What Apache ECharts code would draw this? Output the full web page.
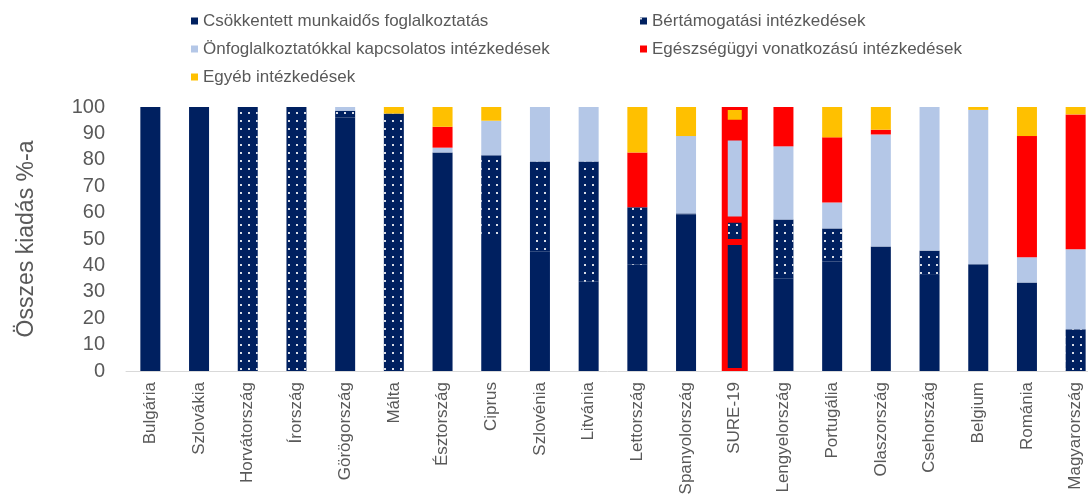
<!DOCTYPE html>
<html>
<head>
<meta charset="utf-8">
<script src="https://cdn.jsdelivr.net/npm/echarts@6/dist/echarts.min.js"></script>
<style>
html,body{margin:0;padding:0;background:#fff;}
#chart{width:1088px;height:495px;}
</style>
</head>
<body>
<div id="chart"></div>
<script>
const categories = ['Bulgária','Szlovákia','Horvátország','Írország','Görögország','Málta','Észtország','Ciprus','Szlovénia','Litvánia','Lettország','Spanyolország','SURE-19','Lengyelország','Portugália','Olaszország','Csehország','Belgium','Románia','Magyarország'];
const seriesNames = ['Csökkentett munkaidős foglalkoztatás','Bértámogatási intézkedések','Önfoglalkoztatókkal kapcsolatos intézkedések','Egészségügyi vonatkozású intézkedések','Egyéb intézkedések'];
const csokkentett = [100, 100, 0, 0, 96, 0, 82.8, 49.6, 45.2, 33.8, 40.2, 59.2, 48.9, 35.1, 41.4, 47.2, 36.4, 40.4, 33.5, 0];
const bertamogatasi = [0, 0, 100, 100, 2.6, 97.5, 0, 32.1, 34.2, 45.6, 21.8, 0.5, 8.5, 22.3, 12.6, 0, 9.2, 0, 0, 15.8];
const onfoglalkoztato = [0, 0, 0, 0, 1.4, 0, 1.8, 13.1, 20.6, 20.6, 0, 29.3, 31, 27.7, 9.8, 42.4, 54.4, 58.5, 9.6, 30.3];
const egeszsegugyi = [0, 0, 0, 0, 0, 0, 7.9, 0, 0, 0, 20.8, 0, 5.6, 14.9, 24.7, 1.8, 0, 0, 45.9, 51.1];
const egyeb = [0, 0, 0, 0, 0, 2.5, 7.5, 5.2, 0, 0, 17.2, 11, 6, 0, 11.5, 8.6, 0, 1.1, 11, 2.8];
const yTicks = [0, 100, 10];
const highlightCategory = 'SURE-19';

const colors = ['#002060', '#002060', '#B4C7E7', '#FF0000', '#FFC000'];
const FONT = 'Liberation Sans, Arial, sans-serif';
const GRAY = '#595959';

const valueSets = [csokkentett, bertamogatasi, onfoglalkoztato, egeszsegugyi, egyeb];

function buildData(values) {
  return values.map((v, i) => {
    if (categories[i] === highlightCategory) {
      return { value: v, itemStyle: { borderColor: '#FF0000', borderWidth: 3 } };
    }
    return v;
  });
}

// outline (frame) behind the highlighted bar: the total of its stack
const frameData = categories.map((c, i) => {
  if (c !== highlightCategory) return '-';
  return valueSets.reduce((s, arr) => s + arr[i], 0);
});

const series = valueSets.map((vals, k) => {
  const s = {
    name: seriesNames[k],
    type: 'bar',
    stack: 'total',
    barWidth: 20,
    z: 3,
    data: buildData(vals),
    itemStyle: { color: colors[k] },
    emphasis: { disabled: true }
  };
  if (k === 1) {
    s.itemStyle.decal = {
      symbol: 'rect',
      symbolSize: 1,
      color: 'rgba(255,255,255,0.85)',
      dashArrayX: [1.5, 5.5],
      dashArrayY: [1.5, 5.5]
    };
  }
  return s;
});
series.push({
  name: 'frame',
  type: 'bar',
  xAxisIndex: 1,
  barWidth: 26,
  z: 1,
  data: frameData,
  itemStyle: { color: '#FF0000' },
  emphasis: { disabled: true },
  silent: true
});

const legendText = { fontSize: 17, color: GRAY, lineHeight: 20, fontFamily: FONT };

const chart = echarts.init(document.getElementById('chart'), null, { renderer: 'canvas' });
chart.setOption({
  animation: false,
  backgroundColor: '#fff',
  textStyle: { fontFamily: FONT },
  legend: [
    {
      data: [seriesNames[0], seriesNames[2], seriesNames[4]],
      orient: 'vertical',
      left: 186, top: 6,
      itemWidth: 7, itemHeight: 7, itemGap: 8,
      icon: 'rect',
      selectedMode: false,
      textStyle: legendText
    },
    {
      data: [seriesNames[1], seriesNames[3]],
      orient: 'vertical',
      left: 635, top: 6,
      itemWidth: 7, itemHeight: 7, itemGap: 8,
      icon: 'rect',
      selectedMode: false,
      textStyle: legendText
    }
  ],
  grid: { left: 126, top: 107, width: 974, height: 264, containLabel: false, outerBoundsMode: 'none' },
  xAxis: [
    {
      type: 'category',
      data: categories,
      axisLine: { lineStyle: { color: '#D9D9D9', width: 1 } },
      axisTick: { show: false },
      axisLabel: { rotate: 90, interval: 0, fontSize: 17, color: GRAY, margin: 11, fontFamily: FONT }
    },
    {
      type: 'category',
      data: categories,
      show: false
    }
  ],
  yAxis: {
    type: 'value',
    min: yTicks[0], max: yTicks[1], interval: yTicks[2],
    name: 'Összes kiadás %-a',
    nameLocation: 'middle',
    nameRotate: 90,
    nameGap: 88,
    nameTextStyle: { fontSize: 23, color: GRAY, fontFamily: FONT },
    axisLine: { show: false },
    axisTick: { show: false },
    splitLine: { show: false },
    axisLabel: { fontSize: 20, color: GRAY, margin: 21, fontFamily: FONT }
  },
  series: series
});
</script>
</body>
</html>
